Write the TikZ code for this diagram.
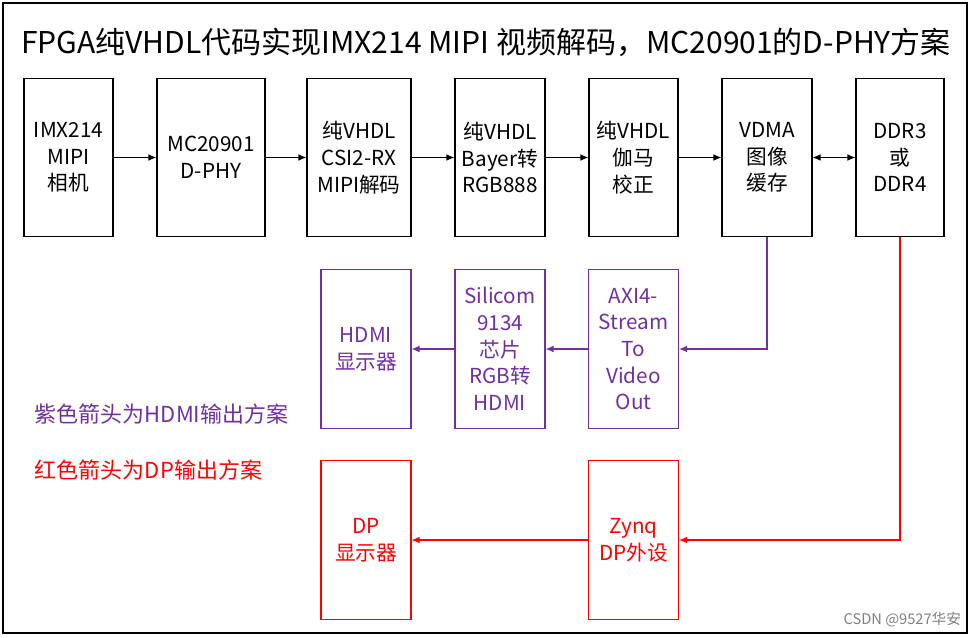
\documentclass[tikz,border=0pt]{standalone}
\usepackage{fontspec}
\setmainfont{Noto Sans CJK SC}
\usetikzlibrary{arrows.meta}
\definecolor{vio}{RGB}{112,48,160}
\tikzset{
every picture/.style={line width=0.8pt},
blk/.style={draw, rectangle, minimum height=119pt, align=center, font=\fontsize{15.5}{20}\selectfont, inner sep=1pt},
arr/.style={-{Latex[length=6pt,width=5pt]}}
}

\begin{document}
\begin{tikzpicture}[x=0.75pt, y=-0.75pt]
\useasboundingbox (0,0) rectangle (971,637);
\draw (3,3) rectangle (967,633);
\node (title) at (486,42) {\fontsize{22.5}{26}\selectfont FPGA纯VHDL代码实现IMX214 MIPI 视频解码，MC20901的D-PHY方案};

% top row
\foreach \x/\w/\t [count=\i] in {68.5/89/{IMX214\\MIPI\\相机}, 211/108/{MC20901\\D-PHY}, 359/104/{纯VHDL\\CSI2-RX\\MIPI解码}, 500/90/{纯VHDL\\Bayer转\\RGB888}, 633.5/89/{纯VHDL\\伽马\\校正}, 767/90/{VDMA\\图像\\缓存}, 900/88/{DDR3\\或\\DDR4}}{
  \node[blk, minimum width=\w*0.75pt] (b\i) at (\x,157.5) {\t};
}
\foreach \i [count=\j from 2] in {1,...,5}{
  \draw[arr] (b\i) -- (b\j);
}
\draw[{Latex[length=6pt,width=5pt]}-{Latex[length=6pt,width=5pt]}] (b6) -- (b7);

% hdmi path
\begin{scope}[vio]
\node[blk, minimum width=67.5pt] (hdmi) at (366,349) {HDMI\\显示器};
\node[blk, minimum width=67.5pt] (sil) at (500,349) {Silicom\\9134\\芯片\\RGB转\\HDMI};
\node[blk, minimum width=67.5pt] (axi) at (633.5,349) {AXI4-\\Stream\\To\\Video\\Out};
\draw[arr] (b6.south) |- (axi.east);
\draw[arr] (axi) -- (sil);
\draw[arr] (sil) -- (hdmi);
\node[anchor=west, font=\fontsize{16.5}{20}\selectfont] (lgv) at (30,414) {紫色箭头为HDMI输出方案};
\end{scope}

% dp path
\begin{scope}[red]
\node[blk, minimum width=67.5pt] (dp) at (366,540) {DP\\显示器};
\node[blk, minimum width=67.5pt] (zynq) at (633.5,540) {Zynq\\DP外设};
\draw[arr] (b7.south) |- (zynq.east);
\draw[arr] (zynq) -- (dp);
\node[anchor=west, font=\fontsize{16.5}{20}\selectfont] (lgr) at (30,470) {红色箭头为DP输出方案};
\end{scope}

\node[anchor=east, gray, font=\fontsize{11}{13}\selectfont] (wm) at (966,620) {CSDN @9527华安};
\end{tikzpicture}
\end{document}
